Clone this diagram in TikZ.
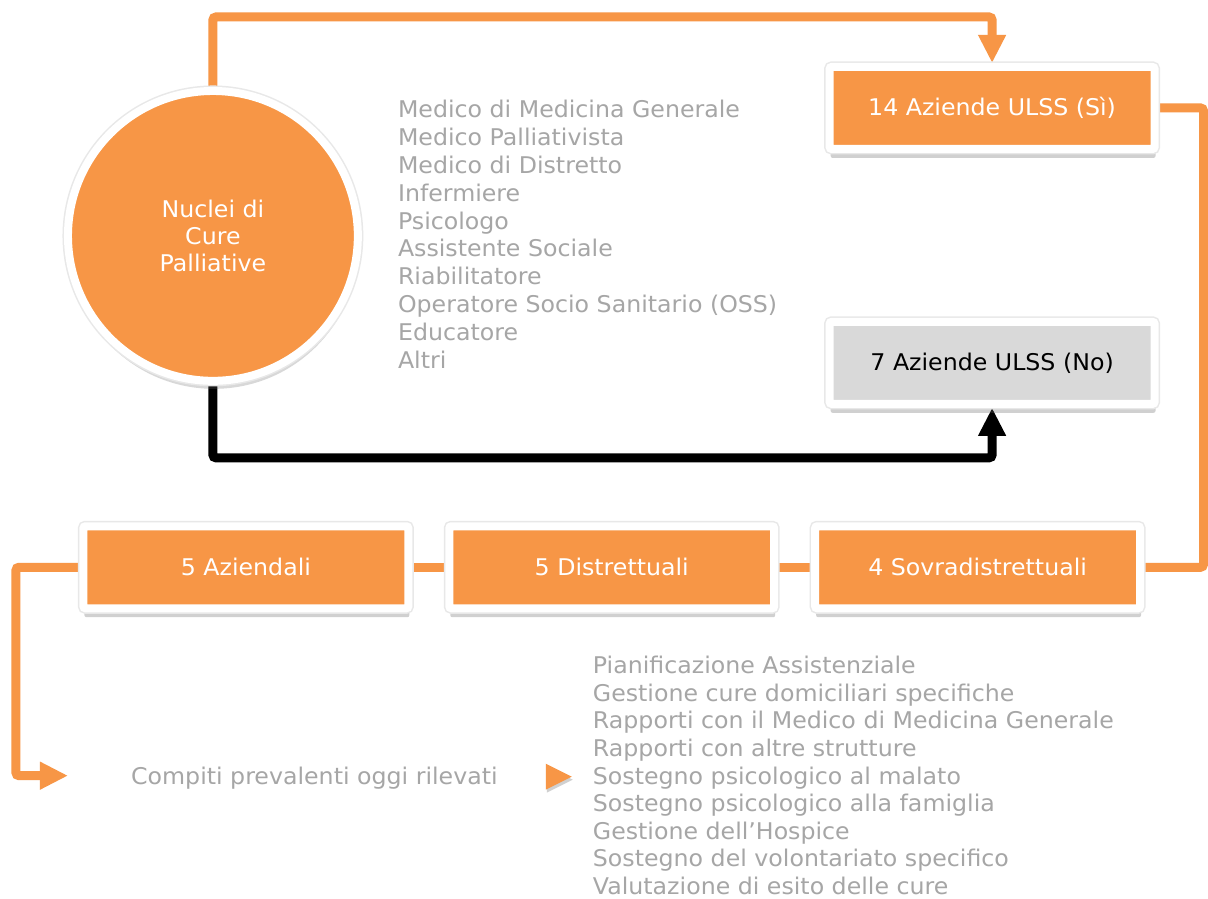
\documentclass[tikz,border=0pt]{standalone}
\usepackage{fontspec}
\setmainfont[FakeStretch=1.03]{DejaVu Sans}
\usetikzlibrary{arrows.meta,shadows}
\definecolor{accent}{HTML}{F79646}
\definecolor{boxgray}{HTML}{D9D9D9}
\definecolor{txtgray}{HTML}{A6A6A6}
\pgfdeclarelayer{paper}
\pgfdeclarelayer{bg}
\pgfsetlayers{paper,bg,main}
\tikzset{
  softshadow/.style={drop shadow={shadow xshift=1pt,shadow yshift=-9pt,opacity=0.3,fill=black!60}},
  halo/.style={preaction={draw=black!9,line width=11pt}},
  boxnode/.style={rectangle,rounded corners=2pt,draw=white,line width=8pt,minimum width=325pt,minimum height=82pt,softshadow,halo,font=\fontsize{23}{27}\selectfont,inner sep=0pt},
  orangebox/.style={boxnode,fill=accent,text=white},
  graybox/.style={boxnode,fill=boxgray,text=black},
  oconn/.style={draw=accent,line width=9pt,rounded corners=3pt},
  kconn/.style={draw=black,line width=9pt,rounded corners=3pt},
  tip/.style={-{Triangle[width=26pt,length=28pt]}},
  listtxt/.style={text=txtgray,font=\fontsize{23}{27}\selectfont,inner sep=0pt},
}
\begin{document}
\begin{tikzpicture}[x=1pt,y=-1pt]
\begin{pgfonlayer}{paper}
\useasboundingbox[fill=white] (0,0) rectangle (1208,899);
\end{pgfonlayer}
% circle
\node[circle,fill=accent,draw=white,line width=8pt,minimum size=290pt,drop shadow={shadow xshift=1pt,shadow yshift=-8pt,opacity=0.25,fill=black!60},halo,text=white,align=center,font=\fontsize{23}{27}\selectfont] (ncp) at (213,236) {Nuclei di\\Cure\\Palliative};
% boxes
\node[orangebox] (b14) at (992.5,108) {14 Aziende ULSS (Sì)};
\node[graybox] (b7) at (992.5,363) {7 Aziende ULSS (No)};
\node[orangebox] (baz) at (246,567.5) {5 Aziendali};
\node[orangebox] (bdi) at (612,567.5) {5 Distrettuali};
\node[orangebox] (bso) at (978,567.5) {4 Sovradistrettuali};
% top list
\foreach \t [count=\i] in {Medico di Medicina Generale,Medico Palliativista,Medico di Distretto,Infermiere,Psicologo,Assistente Sociale,Riabilitatore,Operatore Socio Sanitario (OSS),Educatore,Altri}
  \node[listtxt,anchor=base west] (m\i) at (398,{118+27.8*(\i-1)}) {\t};
% compiti
\node[listtxt,anchor=base west] (compiti) at (131,785) {Compiti prevalenti oggi rilevati};
\coordinate (tri) at (546,777);
\fill[accent,drop shadow={shadow xshift=1pt,shadow yshift=-3pt,opacity=0.3,fill=black!60}] (tri) ++(0,-13) -- ++(26,13) -- ++(-26,13) -- cycle;
\foreach \t [count=\i] in {Pianificazione Assistenziale,Gestione cure domiciliari specifiche,Rapporti con il Medico di Medicina Generale,Rapporti con altre strutture,Sostegno psicologico al malato,Sostegno psicologico alla famiglia,Gestione dell’Hospice,Sostegno del volontariato specifico,Valutazione di esito delle cure}
  \node[listtxt,anchor=base west] (c\i) at (593,{674+27.6*(\i-1)}) {\t};
\coordinate (ctip) at (68,776);
% connectors
\begin{pgfonlayer}{bg}
\draw[oconn,tip] (ncp.center) -- (ncp.center |- 0,17) -| (b14.north);
\draw[oconn] (b14.east) -- (1204,108) |- (bso.east);
\draw[kconn,tip] (ncp.center) -- (ncp.center |- 0,458) -| (b7.south);
\draw[oconn] (baz.east) -- (bdi.west);
\draw[oconn] (bdi.east) -- (bso.west);
\draw[oconn,tip] (baz.west) -- (16,567.5) |- (ctip);
\end{pgfonlayer}
\end{tikzpicture}
\end{document}
